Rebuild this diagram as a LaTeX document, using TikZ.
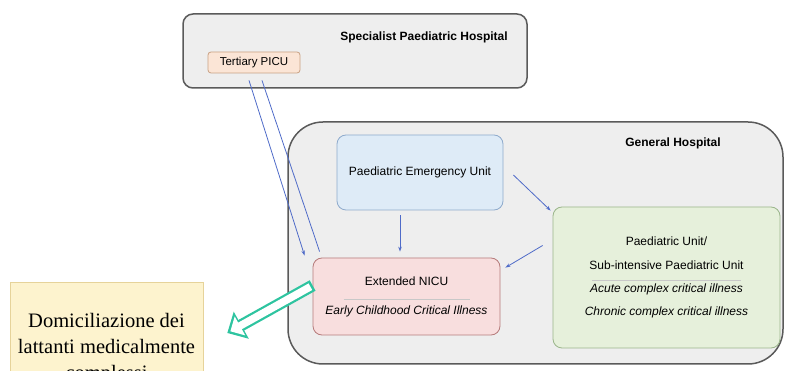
\documentclass[tikz,border=0pt]{standalone}
\usepackage{fontspec}
\setmainfont{Liberation Sans}
\newfontfamily\homefont{Liberation Serif}
\usetikzlibrary{arrows.meta}
\definecolor{hospfill}{HTML}{EEEEEE}
\definecolor{hospdraw}{HTML}{5A5A5A}
\definecolor{picufill}{HTML}{FBE5D6}
\definecolor{picudraw}{HTML}{C8A183}
\definecolor{emfill}{HTML}{DEEBF7}
\definecolor{emdraw}{HTML}{8EAACC}
\definecolor{nicufill}{HTML}{F8DEDE}
\definecolor{nicudraw}{HTML}{B67B7B}
\definecolor{wardfill}{HTML}{E6F0DB}
\definecolor{warddraw}{HTML}{9AB58A}
\definecolor{homefill}{HTML}{FDF3CE}
\definecolor{homedraw}{HTML}{E6D39A}
\definecolor{linkblue}{HTML}{4F6BC8}
\definecolor{hometeal}{HTML}{2EC4A0}
\definecolor{sepgray}{HTML}{C8C8C8}
\tikzset{
  hospital/.style={draw=hospdraw, fill=hospfill, line width=1.5pt, rounded corners=#1, inner sep=0pt},
  title/.style={font=\fontsize{12}{14.4}\selectfont\bfseries},
  unit/.style={draw, line width=0.8pt, rounded corners=9pt, align=center, inner sep=0pt,
    font=\fontsize{12}{14.4}\selectfont},
  link/.style={draw=linkblue, line width=0.8pt},
  linktip/.style={link, -{Stealth[length=5pt,width=3.5pt]}}
}

\begin{document}
\begin{tikzpicture}[x=1pt,y=-1pt]
  \useasboundingbox (0,0) rectangle (788,371);
  \clip (0,0) rectangle (788,371);

  % Hospitals
  \node[hospital=10pt, minimum width=344, minimum height=74] (specialist) at (355,51) {};
  \node[title] (specialisttitle) at (424,37) {Specialist Paediatric Hospital};
  \node[hospital=35pt, minimum width=495, minimum height=242] (general) at (535.5,243) {};
  \node[title] (generaltitle) at (673,143) {General Hospital};

  % Units
  \node[unit, fill=picufill, draw=picudraw, rounded corners=3pt, minimum width=92, minimum height=21,
    font=\fontsize{11.5}{13}\selectfont] (picu) at (254,62.5) {Tertiary PICU};
  \node[unit, fill=emfill, draw=emdraw, minimum width=166, minimum height=75] (emergency) at (420,172.5)
    {Paediatric Emergency Unit};
  \node[unit, fill=nicufill, draw=nicudraw, minimum width=187, minimum height=77] (nicu) at (406.5,296.5)
    {Extended NICU\\ \textcolor{sepgray}{\rule{126pt}{0.6pt}}\\ \textit{Early Childhood Critical Illness}};
  \node[unit, fill=wardfill, draw=warddraw, minimum width=227, minimum height=141] (ward) at (666.5,277.5)
    {Paediatric Unit/\\[9pt] Sub-intensive Paediatric Unit\\[-3pt] \textcolor{sepgray}{\rule{149pt}{0.6pt}}\\[-3pt]
     \textit{Acute complex critical illness}\\[9pt] \textit{Chronic complex critical illness}};

  % Home care
  \node[draw=homedraw, fill=homefill, line width=0.6pt, minimum width=193, minimum height=134, align=center,
    font=\homefont\fontsize{20.5}{26}\selectfont] (home) at (106.5,349)
    {Domiciliazione dei\\lattanti medicalmente\\complessi};

  % Links
  \draw[linktip] ([xshift=-5pt,yshift=-7pt]picu.south) -- ([xshift=-8pt,yshift=2pt]nicu.north west);
  \draw[link] ([xshift=7pt,yshift=6pt]nicu.north west) -- ([xshift=8pt,yshift=-7pt]picu.south);
  \draw[linktip] ([xshift=-20pt,yshift=-5pt]emergency.south) -- ([xshift=-6.5pt,yshift=6pt]nicu.north);
  \draw[linktip] ([xshift=10pt,yshift=-2.5pt]emergency.east) -- ([xshift=-2pt,yshift=-4pt]ward.north west);
  \draw[linktip] ([xshift=-10pt,yshift=32pt]ward.west) -- ([xshift=5pt,yshift=-10pt]nicu.north east);

  % Discharge arrow
  \draw[hometeal, line width=12pt, -{Triangle[length=16pt 0,width=30pt 0]}]
    ([yshift=11pt]nicu.west) -- ([xshift=24pt,yshift=16pt]home.east);
  \draw[white, line width=7.5pt, shorten <=2.5pt, shorten >=3.5pt, -{Triangle[length=11pt 0,width=21pt 0]}]
    ([yshift=11pt]nicu.west) -- ([xshift=24pt,yshift=16pt]home.east);
\end{tikzpicture}
\end{document}
